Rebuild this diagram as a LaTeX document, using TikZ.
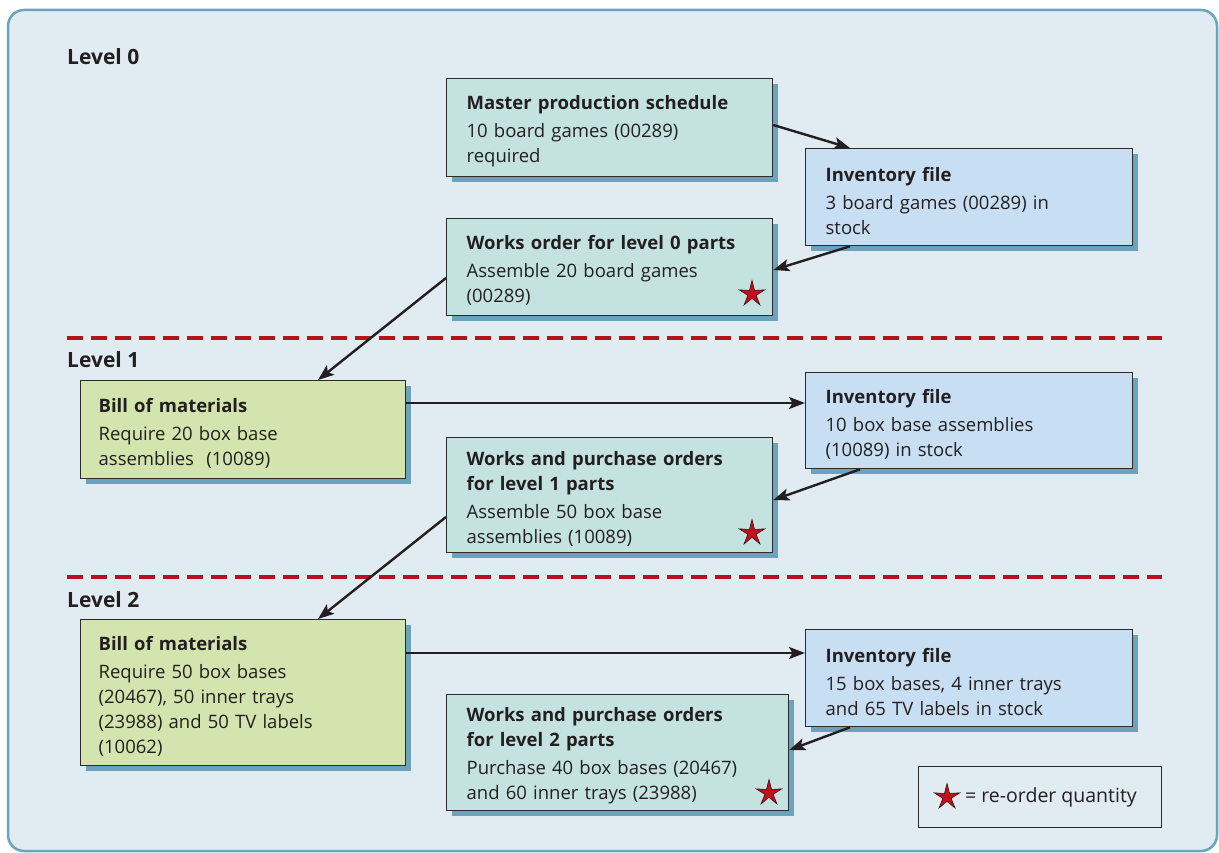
\documentclass[tikz,border=0pt]{standalone}
\usepackage{fontspec}
\setmainfont{Open Sans}
\usetikzlibrary{shapes.geometric,shadows,arrows.meta,calc}
\definecolor{bg}{HTML}{E0EBF2}
\definecolor{frame}{HTML}{6AA5C0}
\definecolor{tealbox}{HTML}{C4E2E0}
\definecolor{bluebox}{HTML}{C8DEF2}
\definecolor{greenbox}{HTML}{D3E4AE}
\definecolor{shadowc}{HTML}{6BA2BC}
\definecolor{boxline}{HTML}{2B2B2B}
\definecolor{starred}{HTML}{C1121C}
\definecolor{stardark}{HTML}{3A1010}
\definecolor{dashred}{HTML}{B5121B}
\definecolor{txt}{HTML}{231F20}
\newcommand{\bodyfnt}{\fontsize{18.5}{25}\selectfont}
\newcommand{\ttl}[1]{{\bfseries #1}\\[3pt]}
\newcommand{\topgap}{\rule{0pt}{21pt}}
\begin{document}
\begin{tikzpicture}[x=1pt,y=-1pt,
  box/.style={draw=boxline, line width=1.3pt, anchor=north west, align=left,
    inner xsep=20pt, inner ysep=0pt, font=\bodyfnt, text=txt,
    drop shadow={shadow xshift=5pt, shadow yshift=-5pt, fill=shadowc, opacity=1}},
  levellabel/.style={font=\fontsize{21}{24}\selectfont\bfseries, text=txt, anchor=base west, inner sep=0pt},
  reorder/.style={star, star points=5, star point ratio=3.1, minimum size=27pt,
    fill=starred, draw=stardark, line width=0.6pt, inner sep=0pt},
  arr/.style={-{Stealth[length=16pt,width=12pt,inset=3.5pt]}, line width=2.4pt, draw=txt},
  levelline/.style={draw=dashred, line width=4pt, dash pattern=on 16pt off 8pt}]
\useasboundingbox[fill=white] (0,0) rectangle (1219,853);
\draw[fill=bg, draw=frame, line width=2.5pt, rounded corners=16pt] (8,10) rectangle (1217,851);

% level labels and separators
\node[levellabel] (l0) at (67,65) {Level 0};
\node[levellabel] (l1) at (67,367) {Level 1};
\node[levellabel] (l2) at (67,607) {Level 2};
\path[levelline] (67,338) -- (1162,338);
\path[levelline] (67,577) -- (1162,577);

% level 0
\node[box, fill=tealbox, text width=286pt, minimum height=98pt] (mps) at (446,78)
  {\ttl{\topgap Master production schedule}10 board games (00289)\\required};
\node[box, fill=bluebox, text width=287pt, minimum height=97pt] (inv0) at (805,148)
  {\ttl{\topgap Inventory file}3 board games (00289) in\\stock};
\node[box, fill=tealbox, text width=286pt, minimum height=97pt] (wo0) at (446,218)
  {\ttl{\topgap Works order for level 0 parts}Assemble 20 board games\\(00289)};
\node[reorder] (s0) at (752,294) {};

% level 1
\node[box, fill=greenbox, minimum height=98pt, inner xsep=18pt, text width=289pt] (bom1) at (80,380)
  {\ttl{\topgap Bill of materials}Require 20 box base\\assemblies\ \ (10089)};
\node[box, fill=bluebox, text width=287pt, minimum height=96pt] (inv1) at (805,372)
  {\ttl{\topgap Inventory file}10 box base assemblies\\(10089) in stock};
\node[box, fill=tealbox, text width=286pt, minimum height=115pt] (wo1) at (446,437)
  {{\bfseries\topgap Works and purchase orders}\\\ttl{for level 1 parts}Assemble 50 box base\\assemblies (10089)};
\node[reorder] (s1) at (752,533) {};

% level 2
\node[box, fill=greenbox, minimum height=146pt, inner xsep=18pt, text width=289pt] (bom2) at (80,619)
  {\ttl{\topgap Bill of materials}Require 50 box bases\\(20467), 50 inner trays\\(23988) and 50 TV labels\\(10062)};
\node[box, fill=bluebox, text width=287pt, minimum height=97pt] (inv2) at (805,629)
  {\ttl{\topgap Inventory file}15 box bases, 4 inner trays\\and 65 TV labels in stock};
\node[box, fill=tealbox, text width=302pt, minimum height=116pt] (wo2) at (446,694)
  {{\bfseries\topgap Works and purchase orders}\\\ttl{for level 2 parts}Purchase 40 box bases (20467)\\and 60 inner trays (23988)};
\node[reorder] (s2) at (769,793) {};

% legend
\node[draw=boxline, line width=1.2pt, fill=bg, anchor=north west, minimum width=243pt, minimum height=61pt, inner sep=0pt] (legend) at (918,766) {};
\node[reorder] (ls) at (947,797) {};
\node[anchor=west, font=\fontsize{19.5}{24}\selectfont, text=txt, inner sep=0pt] (lt) at (965,797) {= re-order quantity};

% connectors
\draw[arr] ($(mps.north east)+(0,47)$) -- ($(inv0.north west)+(45,0)$);
\draw[arr] ($(inv0.south west)+(45,0)$) -- ($(wo0.north east)+(0,52)$);
\draw[arr] ($(wo0.north west)+(0,60)$) -- ($(bom1.north west)+(238,0)$);
\draw[arr] ($(bom1.north east)+(0,23)$) -- ($(inv1.north west)+(0,31)$);
\draw[arr] ($(inv1.south west)+(55,0)$) -- ($(wo1.north east)+(0,63)$);
\draw[arr] ($(wo1.north west)+(0,80)$) -- ($(bom2.north west)+(238,0)$);
\draw[arr] ($(bom2.north east)+(0,34)$) -- ($(inv2.north west)+(0,24)$);
\draw[arr] ($(inv2.south west)+(45,0)$) -- ($(wo2.north east)+(0,56)$);
\end{tikzpicture}
\end{document}
